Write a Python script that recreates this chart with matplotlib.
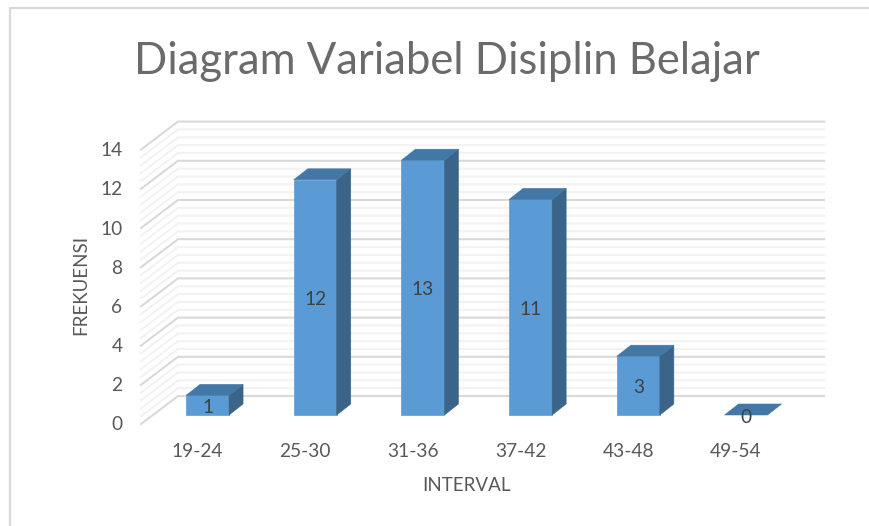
import matplotlib
matplotlib.use('Agg')
import matplotlib.pyplot as plt
from matplotlib.lines import Line2D
from matplotlib.patches import Polygon
from matplotlib.transforms import ScaledTranslation

plt.rcParams['font.family'] = ['Lato', 'DejaVu Sans']

categories = ['19-24', '25-30', '31-36', '37-42', '43-48', '49-54']
values = [1, 12, 13, 11, 3, 0]
y_ticks = [0, 2, 4, 6, 8, 10, 12, 14]
minor_levels = [i * 0.4 for i in range(36) if i % 5 != 0]

W, H = 870, 526
LEFT, RIGHT = 153.7, 799.9
BASE, TOP = 415, 140.6

# ==================== px -> data ====================
PX_X = 6 / (RIGHT - LEFT)
PX_Y = 14 / (BASE - TOP)
BAR_W = 43 * PX_X
DEPTH_X, DEPTH_Y = 14 * PX_X, 11 * PX_Y
BACK_X, BACK_Y = 24.3 * PX_X, 19 * PX_Y
FRONT_X, FRONT_Y = 12.7 * PX_X, 9 * PX_Y

TEXT = '#595959'
FRONT = '#5b9bd5'
TOP_FACE = '#4377a6'
SIDE = '#3a6588'

fig = plt.figure(figsize=(W / 100, H / 100), dpi=100)
fig.add_artist(Line2D([10 / W, 10 / W, 1], [0, 1 - 8 / H, 1 - 8 / H], color='#d9d9d9', lw=1.6))

ax = fig.add_axes([LEFT / W, 1 - BASE / H, (RIGHT - LEFT) / W, (BASE - TOP) / H])
ax.set_xlim(-0.5, 5.5)
ax.set_ylim(0, 14)
for s in ax.spines.values():
    s.set_visible(False)
ax.patch.set_visible(False)


def wall_line(v, color, lw):
    xs = [-0.5 - FRONT_X, -0.5 + BACK_X, 5.5 + BACK_X]
    ys = [v - FRONT_Y, v + BACK_Y, v + BACK_Y]
    ax.plot(xs, ys, color=color, lw=lw, clip_on=False, zorder=1, solid_joinstyle='miter')


for v in minor_levels:
    wall_line(v, '#f2f2f2', 1.5)
for v in y_ticks:
    wall_line(v, '#d9d9d9', 1.5)

for i, v in enumerate(values):
    x0, x1 = i - BAR_W / 2, i + BAR_W / 2
    if v > 0:
        ax.add_patch(Polygon([(x0, 0), (x1, 0), (x1, v), (x0, v)], fc=FRONT, ec='#6aa5dc', lw=0.6, zorder=3, clip_on=False))
        ax.add_patch(Polygon([(x1, 0), (x1 + DEPTH_X, DEPTH_Y), (x1 + DEPTH_X, v + DEPTH_Y), (x1, v)],
                             fc=SIDE, ec=SIDE, lw=0.4, zorder=3, clip_on=False))
    ax.add_patch(Polygon([(x0, v), (x1, v), (x1 + DEPTH_X, v + DEPTH_Y), (x0 + DEPTH_X, v + DEPTH_Y)],
                         fc=TOP_FACE, ec=TOP_FACE, lw=0.4, zorder=3, clip_on=False))
    ax.annotate(str(v), (i, v / 2), xytext=(0, -1.5), textcoords='offset points', ha='center', va='center',
                fontsize=13.8, color='#404040', zorder=5)

ax.set_xticks(range(len(categories)))
ax.set_xticklabels(categories)
ax.set_yticks(y_ticks)
ax.tick_params(axis='both', length=0, labelsize=13.8, labelcolor=TEXT)
ax.tick_params(axis='x', pad=20.5)
ax.tick_params(axis='y', pad=22.5)

# labels sit on the front plane, not the bar plane
for lab in ax.get_yticklabels():
    lab.set_transform(lab.get_transform() + ScaledTranslation(0, -8.5 / 100, fig.dpi_scale_trans))
for lab in ax.get_xticklabels():
    lab.set_transform(lab.get_transform() + ScaledTranslation(-10 / 100, 0, fig.dpi_scale_trans))

ax.set_xlabel('INTERVAL', fontsize=13.5, color=TEXT)
ax.xaxis.set_label_coords((466 - LEFT) / (RIGHT - LEFT), (BASE - 485.5) / (BASE - TOP), transform=ax.transAxes)
ax.xaxis.label.set_va('center')
ax.set_ylabel('FREKUENSI', fontsize=13.5, color=TEXT)
ax.yaxis.set_label_coords((81 - LEFT) / (RIGHT - LEFT), (BASE - 285) / (BASE - TOP), transform=ax.transAxes)
ax.yaxis.label.set_va('center')

fig.text(446.5 / W, 1 - 61 / H, 'Diagram Variabel Disiplin Belajar', ha='center', va='center',
         fontsize=31.4, color='#6b6b6b')

fig.savefig('out.png', dpi=100)
